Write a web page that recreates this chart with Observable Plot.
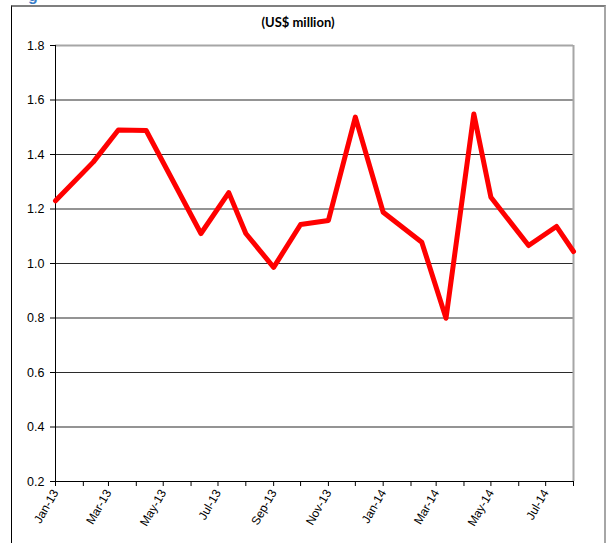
<!DOCTYPE html>
<html>
<head>
<meta charset="utf-8">
<script src="https://cdn.jsdelivr.net/npm/d3@7"></script>
<script src="https://cdn.jsdelivr.net/npm/@observablehq/plot@0.6"></script>
<style>
  html, body { margin: 0; padding: 0; background: #fff; overflow: hidden; }
  #wrap { position: relative; width: 610px; height: 543px; }
  #frame { position: absolute; left: 11px; top: 5px; width: 595px; height: 560px;
           border-top: 2px solid #7f7f7f; border-left: 1px solid #000; border-right: 2px solid #a6a6a6; box-sizing: border-box; }
  #title { position: absolute; left: 0; width: 596px; top: 14px; text-align: center;
           font-family: Lato, "Liberation Sans", sans-serif; font-weight: bold; font-size: 13px; color: #000; }
  #fig { position: absolute; left: 28px; top: -13px; font-family: "Liberation Sans", sans-serif; font-weight: bold; font-size: 16px; color: #3a7dc9; }
  #chart { position: absolute; left: 0; top: 0; }
</style>
</head>
<body>
<div id="wrap">
  <div id="fig">g</div>
  <div id="frame"></div>
  <div id="chart"></div>
  <div id="title">(US$ million)</div>
</div>
<script>
// Data
const pointDates = ["2013-01-01","2013-02-12","2013-03-12","2013-04-12","2013-06-12","2013-07-13",
  "2013-08-01","2013-09-01","2013-10-01","2013-11-01","2013-12-01","2014-01-01","2014-02-13",
  "2014-03-12","2014-04-12","2014-05-01","2014-06-12","2014-07-13","2014-08-01"];
const pointValues = [1.23,1.372,1.49,1.488,1.11,1.26,1.11,0.986,1.143,1.158,1.537,1.188,1.078,
  0.799,1.549,1.243,1.066,1.136,1.044];
const tickLabels = ["Jan-13","Mar-13","May-13","Jul-13","Sep-13","Nov-13","Jan-14","Mar-14","May-14","Jul-14"];
const yTicks = [0.2,0.4,0.6,0.8,1.0,1.2,1.4,1.6,1.8];
const xStartLabel = "2013-01-01";
const xEndLabel = "2014-08-01";

const parseLabel = d3.utcParse("%b-%y");
const fmtLabel = d3.utcFormat("%b-%y");
const data = pointDates.map((d, i) => ({date: new Date(d), value: pointValues[i]}));
const xStart = new Date(xStartLabel), xEnd = new Date(xEndLabel);
const monthTicks = d3.utcMonth.range(xStart, new Date(xEnd.getTime() + 86400000));
const labelDates = tickLabels.map(parseLabel);

const chart = Plot.plot({
  width: 610,
  height: 543,
  marginLeft: 55,
  marginRight: 37,
  marginTop: 45,
  marginBottom: 62,
  style: {fontFamily: '"Liberation Sans", Arial, sans-serif', fontSize: "12px", color: "#000", background: "transparent", overflow: "visible"},
  x: {type: "utc", domain: [xStart, xEnd]},
  y: {domain: [0.2, 1.8]},
  marks: [
    Plot.ruleY(yTicks.filter(v => v > 0.21 && v < 1.79), {stroke: "#2b2b2b", strokeWidth: 1.2, strokeOpacity: 1}),
    Plot.ruleY([1.8], {stroke: "#a6a6a6", strokeWidth: 2, strokeOpacity: 1}),
    Plot.ruleX([xEnd], {stroke: "#a6a6a6", strokeWidth: 2, strokeOpacity: 1}),
    Plot.axisY({ticks: yTicks, tickFormat: d => d.toFixed(1), tickSize: 5, tickPadding: 6, stroke: "#000", strokeOpacity: 1, fontSize: 12.5, label: null}),
    Plot.axisX({ticks: monthTicks, tickFormat: () => "", tickSize: 5, stroke: "#000", strokeOpacity: 1, label: null}),
    Plot.axisX({ticks: labelDates, tickFormat: fmtLabel, tickSize: 0, tickPadding: 9, tickRotate: -60, fontSize: 12, label: null}),
    Plot.ruleX([xStart], {stroke: "#000", strokeOpacity: 1}),
    Plot.ruleY([0.2], {stroke: "#000", strokeOpacity: 1}),
    Plot.line(data, {x: "date", y: "value", stroke: "#ff0000", strokeWidth: 5, strokeLinejoin: "round"})
  ]
});
document.getElementById("chart").appendChild(chart);
</script>
</body>
</html>
